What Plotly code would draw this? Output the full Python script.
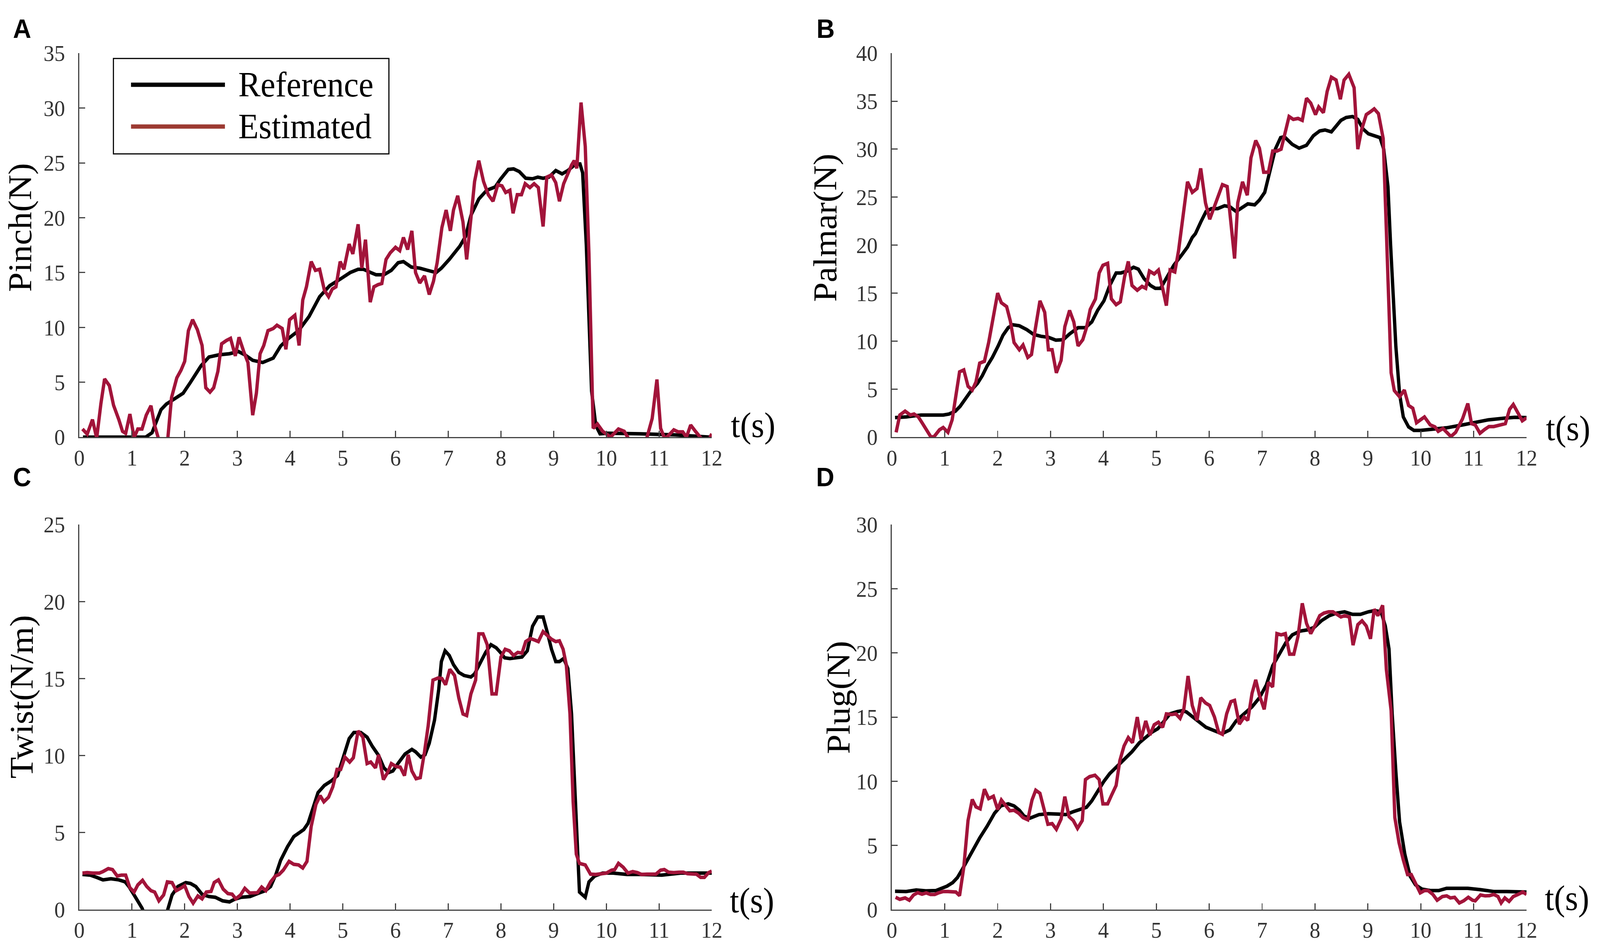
import plotly.graph_objects as go

# (t [s], value) pairs, one list per curve
pinch_ref = [(0.07, 0), (1.26, 0), (1.38, 0.4), (1.48, 1.6), (1.55, 2.5), (1.65, 3.0), (1.82, 3.5), (1.97, 4.0),
             (2.11, 5.0), (2.31, 6.5), (2.46, 7.3), (2.65, 7.5), (2.85, 7.6), (3.02, 7.8), (3.14, 7.5), (3.29, 7.0),
             (3.48, 6.8), (3.68, 7.2), (3.82, 8.3), (3.97, 9.0), (4.16, 9.7), (4.36, 11.0), (4.56, 12.8), (4.75, 13.8),
             (4.95, 14.4), (5.14, 15.0), (5.29, 15.3), (5.39, 15.3), (5.53, 15.0), (5.63, 14.8), (5.78, 14.8),
             (5.92, 15.2), (6.05, 15.9), (6.15, 16.0), (6.3, 15.5), (6.46, 15.4), (6.61, 15.2), (6.77, 15.0),
             (6.87, 15.4), (7.02, 16.2), (7.22, 17.4), (7.33, 18.3), (7.43, 20.2), (7.58, 21.7), (7.73, 22.5),
             (7.89, 22.8), (7.99, 23.5), (8.14, 24.4), (8.24, 24.45), (8.35, 24.2), (8.47, 23.6), (8.6, 23.55),
             (8.7, 23.7), (8.8, 23.6), (8.91, 23.7), (9.04, 24.3), (9.16, 24.0), (9.27, 24.3), (9.42, 24.9),
             (9.5, 24.9), (9.55, 24.1), (9.62, 17.5), (9.72, 4.2), (9.8, 1.06), (9.88, 0.3), (10.03, 0.35),
             (10.64, 0.3), (11.3, 0.2), (11.97, 0.0)]
pinch_est = [(0.06, 0.74), (0.15, 0.27), (0.25, 1.6), (0.33, -0.1), (0.41, 3.05), (0.48, 5.3), (0.57, 4.7),
             (0.65, 2.9), (0.75, 1.6), (0.82, 0.53), (0.88, 0.34), (0.96, 2.1), (1.04, -0.05), (1.11, 0.74),
             (1.19, 0.74), (1.27, 2.0), (1.36, 2.86), (1.43, 1.06), (1.5, -0.1), (1.59, -1.5), (1.68, -0.1),
             (1.75, 3.6), (1.85, 5.4), (1.93, 6.1), (2.0, 6.9), (2.07, 9.7), (2.15, 10.7), (2.24, 9.8), (2.33, 8.35),
             (2.4, 4.5), (2.48, 4.1), (2.55, 4.5), (2.63, 6.0), (2.7, 8.5), (2.79, 8.8), (2.87, 9.0), (2.96, 7.4),
             (3.03, 9.1), (3.12, 7.8), (3.2, 6.8), (3.29, 2.0), (3.36, 4.0), (3.43, 7.6), (3.5, 8.35), (3.58, 9.7),
             (3.68, 9.9), (3.75, 10.2), (3.85, 9.9), (3.92, 8.0), (3.99, 10.7), (4.09, 11.1), (4.17, 8.35),
             (4.24, 12.5), (4.31, 13.7), (4.4, 16.0), (4.48, 15.2), (4.56, 15.3), (4.65, 13.4), (4.73, 12.8),
             (4.8, 13.5), (4.87, 13.7), (4.95, 16.0), (5.02, 15.3), (5.12, 17.6), (5.19, 16.7), (5.29, 19.4),
             (5.36, 15.4), (5.43, 18.0), (5.52, 12.3), (5.59, 13.7), (5.67, 13.9), (5.74, 14.0), (5.82, 16.2),
             (5.9, 16.8), (6.0, 17.3), (6.08, 17.0), (6.15, 18.2), (6.23, 17.1), (6.31, 18.8), (6.38, 15.0),
             (6.46, 14.05), (6.55, 14.7), (6.64, 13.0), (6.72, 14.2), (6.79, 15.9), (6.88, 19.1), (6.96, 20.7),
             (7.04, 18.8), (7.1, 20.7), (7.18, 22.0), (7.28, 19.6), (7.35, 16.2), (7.43, 19.9), (7.5, 23.3),
             (7.58, 25.2), (7.67, 23.3), (7.76, 22.1), (7.85, 21.5), (7.94, 23.0), (8.02, 22.9), (8.09, 22.3),
             (8.17, 22.5), (8.23, 20.4), (8.31, 22.1), (8.39, 22.1), (8.46, 23.1), (8.55, 22.75), (8.63, 23.1),
             (8.71, 22.75), (8.8, 19.2), (8.87, 23.7), (8.96, 23.9), (9.04, 23.2), (9.11, 21.5), (9.19, 23.1),
             (9.27, 24.1), (9.34, 24.8), (9.39, 25.2), (9.44, 24.5), (9.52, 30.5), (9.6, 26.5), (9.67, 16.7),
             (9.75, 0.8), (9.83, 1.2), (9.93, 0.53), (10.08, 0.0), (10.23, 0.74), (10.34, 0.53), (10.41, -0.05),
             (10.5, -1.2), (10.6, -1.5), (10.69, -1.0), (10.77, -0.05), (10.87, 1.7), (10.96, 5.25), (11.03, 0.8),
             (11.1, -0.05), (11.15, 0.0), (11.28, 0.66), (11.36, 0.48), (11.45, 0.48), (11.52, 0.0), (11.6, 1.1),
             (11.69, 0.53), (11.79, -0.05), (11.87, -1.0), (11.96, -0.05), (12.0, 0.3)]

palmar_ref = [(0.06, 2.03), (0.27, 2.1), (0.55, 2.3), (0.73, 2.3), (0.97, 2.3), (1.08, 2.4), (1.2, 2.7),
              (1.29, 3.2), (1.41, 4.2), (1.52, 5.0), (1.62, 5.6), (1.71, 6.4), (1.8, 7.4), (1.9, 8.3), (2.01, 9.5),
              (2.1, 10.6), (2.2, 11.4), (2.29, 11.7), (2.41, 11.6), (2.55, 11.2), (2.68, 10.7), (2.82, 10.5),
              (2.96, 10.4), (3.1, 10.1), (3.24, 10.15), (3.36, 10.75), (3.52, 11.4), (3.66, 11.4), (3.78, 12.0),
              (3.89, 13.2), (4.01, 14.2), (4.12, 15.8), (4.24, 17.1), (4.33, 17.1), (4.45, 17.3), (4.57, 17.7),
              (4.66, 17.5), (4.77, 16.5), (4.89, 15.8), (4.98, 15.5), (5.08, 15.5), (5.19, 16.6), (5.33, 17.9),
              (5.47, 18.9), (5.59, 19.8), (5.68, 20.8), (5.74, 21.2), (5.84, 22.4), (5.94, 23.5), (6.04, 23.8),
              (6.16, 23.8), (6.29, 24.1), (6.39, 24.0), (6.51, 23.5), (6.63, 23.9), (6.73, 24.3), (6.86, 24.2),
              (6.95, 24.7), (7.05, 25.5), (7.15, 27.6), (7.25, 30.0), (7.35, 31.2), (7.42, 31.3), (7.57, 30.5),
              (7.7, 30.1), (7.84, 30.4), (7.97, 31.4), (8.09, 31.9), (8.19, 32.0), (8.31, 31.8), (8.41, 32.4),
              (8.49, 33.0), (8.59, 33.3), (8.71, 33.4), (8.81, 33.1), (8.91, 32.1), (9.01, 31.6), (9.13, 31.4),
              (9.23, 31.2), (9.3, 30.0), (9.38, 26.1), (9.43, 20.0), (9.48, 13.9), (9.53, 9.4), (9.6, 4.5),
              (9.67, 2.1), (9.77, 1.06), (9.87, 0.7), (10.0, 0.7), (10.29, 0.85), (10.49, 0.97), (10.79, 1.27),
              (11.03, 1.5), (11.28, 1.8), (11.58, 1.97), (11.78, 2.06), (12.0, 2.03)]
palmar_est = [(0.08, 0.5), (0.15, 2.3), (0.25, 2.7), (0.35, 2.3), (0.42, 2.4), (0.5, 2.1), (0.57, 1.5),
              (0.65, 0.76), (0.74, 0.0), (0.8, 0.06), (0.9, 0.76), (0.97, 1.0), (1.06, 0.5), (1.14, 1.8), (1.2, 3.9),
              (1.28, 6.8), (1.36, 7.0), (1.44, 5.3), (1.52, 4.9), (1.59, 5.75), (1.66, 7.7), (1.75, 7.9),
              (1.83, 9.85), (1.9, 12.1), (2.0, 15.0), (2.07, 14.0), (2.17, 13.6), (2.24, 12.1), (2.31, 9.85),
              (2.41, 9.1), (2.48, 9.6), (2.57, 8.3), (2.64, 8.6), (2.71, 11.2), (2.8, 14.2), (2.89, 13.0),
              (2.96, 9.1), (3.03, 9.1), (3.11, 6.7), (3.2, 8.0), (3.27, 11.5), (3.36, 13.2), (3.44, 12.0),
              (3.52, 9.5), (3.61, 10.15), (3.68, 11.4), (3.75, 13.3), (3.85, 14.4), (3.92, 17.1), (3.99, 17.9),
              (4.08, 18.1), (4.15, 14.4), (4.24, 13.8), (4.32, 14.1), (4.4, 16.7), (4.47, 18.3), (4.54, 15.8),
              (4.64, 15.3), (4.73, 15.7), (4.8, 15.5), (4.87, 17.3), (4.96, 17.0), (5.04, 17.4), (5.12, 15.5),
              (5.19, 13.7), (5.26, 17.4), (5.35, 17.2), (5.42, 19.4), (5.49, 22.4), (5.59, 26.6), (5.68, 25.5),
              (5.77, 25.9), (5.84, 28.0), (5.93, 24.4), (6.01, 22.7), (6.09, 23.9), (6.18, 25.5), (6.25, 26.3),
              (6.34, 26.1), (6.41, 22.6), (6.48, 18.6), (6.54, 24.4), (6.63, 26.6), (6.72, 25.2), (6.79, 29.1),
              (6.88, 30.9), (6.95, 30.1), (7.03, 27.6), (7.12, 27.6), (7.2, 29.8), (7.28, 29.8), (7.36, 30.0),
              (7.44, 31.8), (7.51, 33.4), (7.59, 33.1), (7.68, 33.2), (7.76, 33.0), (7.84, 35.3), (7.92, 34.8),
              (8.01, 33.6), (8.07, 34.4), (8.16, 33.8), (8.23, 36.0), (8.31, 37.5), (8.4, 37.2), (8.48, 35.2),
              (8.55, 37.2), (8.64, 37.8), (8.74, 36.4), (8.81, 30.0), (8.88, 32.0), (8.97, 33.6), (9.05, 33.9),
              (9.12, 34.2), (9.2, 33.7), (9.29, 31.1), (9.35, 21.5), (9.4, 13.9), (9.44, 6.7), (9.5, 4.85),
              (9.6, 4.2), (9.69, 4.9), (9.77, 3.3), (9.85, 3.0), (9.92, 1.5), (10.07, 2.1), (10.18, 1.27),
              (10.27, 1.06), (10.33, 0.6), (10.42, 0.9), (10.57, 0.06), (10.66, 0.5), (10.79, 1.9), (10.89, 3.5),
              (10.96, 1.4), (11.03, 1.27), (11.12, 0.4), (11.21, 0.8), (11.29, 1.1), (11.38, 1.1), (11.5, 1.27),
              (11.6, 1.4), (11.68, 2.9), (11.75, 3.4), (11.84, 2.5), (11.92, 1.7), (12.0, 2.0)]

twist_ref = [(0.06, 2.28), (0.21, 2.24), (0.33, 2.09), (0.45, 1.93), (0.6, 2.0), (0.75, 1.93), (0.87, 1.8),
             (0.94, 1.5), (1.04, 0.95), (1.11, 0.57), (1.19, 0.1), (1.3, -0.8), (1.45, -1.6), (1.6, -0.9),
             (1.68, 0.0), (1.76, 0.95), (1.87, 1.5), (2.02, 1.75), (2.11, 1.7), (2.21, 1.5), (2.33, 0.99),
             (2.46, 0.85), (2.58, 0.8), (2.72, 0.57), (2.85, 0.5), (2.94, 0.66), (3.07, 0.8), (3.24, 0.85),
             (3.38, 1.04), (3.53, 1.23), (3.63, 1.5), (3.73, 2.28), (3.82, 3.2), (3.95, 4.08), (4.07, 4.74),
             (4.17, 5.0), (4.26, 5.2), (4.34, 5.6), (4.43, 6.6), (4.53, 7.6), (4.65, 8.06), (4.78, 8.35),
             (4.9, 8.7), (5.0, 9.86), (5.12, 11.1), (5.21, 11.5), (5.34, 11.5), (5.46, 11.2), (5.56, 10.6),
             (5.68, 10.0), (5.78, 9.2), (5.87, 8.9), (5.95, 9.0), (6.05, 9.5), (6.18, 10.1), (6.31, 10.4),
             (6.38, 10.25), (6.48, 9.9), (6.56, 10.05), (6.64, 10.8), (6.74, 12.3), (6.82, 14.3), (6.87, 16.1),
             (6.94, 16.8), (7.02, 16.5), (7.1, 15.9), (7.2, 15.4), (7.3, 15.2), (7.43, 15.1), (7.5, 15.3),
             (7.61, 16.0), (7.71, 16.7), (7.81, 17.2), (7.91, 17.0), (7.99, 16.7), (8.07, 16.35), (8.17, 16.3),
             (8.3, 16.35), (8.4, 16.4), (8.5, 16.8), (8.6, 18.4), (8.7, 19.0), (8.8, 19.0), (8.88, 18.0),
             (8.96, 16.9), (9.04, 16.1), (9.11, 16.1), (9.19, 16.3), (9.27, 15.65), (9.34, 12.7), (9.39, 8.9),
             (9.44, 4.2), (9.49, 1.14), (9.6, 0.8), (9.67, 1.8), (9.78, 2.18), (9.93, 2.37), (10.13, 2.37),
             (10.39, 2.28), (10.64, 2.28), (11.05, 2.24), (11.41, 2.37), (11.77, 2.4), (12.0, 2.37)]
twist_est = [(0.06, 2.37), (0.15, 2.4), (0.26, 2.37), (0.38, 2.37), (0.45, 2.47), (0.55, 2.66), (0.63, 2.6),
             (0.72, 2.18), (0.8, 2.24), (0.88, 2.24), (0.96, 1.42), (1.04, 1.14), (1.11, 1.6), (1.2, 1.9),
             (1.28, 1.5), (1.36, 1.23), (1.43, 1.14), (1.51, 0.57), (1.6, 0.95), (1.67, 1.8), (1.76, 1.75),
             (1.84, 1.23), (1.92, 1.38), (2.0, 1.55), (2.08, 0.85), (2.16, 0.42), (2.25, 0.89), (2.33, 0.7),
             (2.41, 1.14), (2.5, 1.18), (2.56, 1.76), (2.64, 1.93), (2.73, 1.33), (2.82, 1.04), (2.9, 1.0),
             (2.97, 0.7), (3.06, 0.95), (3.14, 1.38), (3.23, 1.08), (3.31, 1.1), (3.38, 1.1), (3.46, 1.46),
             (3.54, 1.23), (3.63, 1.8), (3.72, 2.18), (3.79, 2.28), (3.87, 2.56), (3.98, 3.13), (4.07, 2.94),
             (4.16, 2.9), (4.24, 2.7), (4.32, 3.13), (4.4, 5.4), (4.49, 6.83), (4.57, 7.4), (4.64, 7.0),
             (4.73, 7.3), (4.81, 7.97), (4.89, 9.1), (4.96, 9.1), (5.04, 9.9), (5.13, 9.58), (5.2, 9.86),
             (5.29, 11.6), (5.38, 11.2), (5.46, 9.48), (5.53, 9.58), (5.62, 9.2), (5.68, 10.05), (5.77, 8.44),
             (5.85, 8.9), (5.92, 9.48), (6.01, 9.29), (6.09, 9.25), (6.17, 8.7), (6.24, 10.05), (6.31, 9.0),
             (6.39, 8.5), (6.47, 8.57), (6.55, 10.24), (6.62, 11.95), (6.71, 14.9), (6.81, 15.04), (6.88, 15.0),
             (6.95, 14.6), (7.03, 15.6), (7.12, 15.2), (7.2, 13.75), (7.28, 12.7), (7.35, 12.6), (7.43, 14.0),
             (7.52, 14.9), (7.58, 17.9), (7.66, 17.9), (7.74, 17.2), (7.83, 14.0), (7.91, 14.0), (8.0, 16.4),
             (8.08, 16.9), (8.16, 16.8), (8.24, 16.5), (8.32, 16.7), (8.4, 16.65), (8.47, 17.4), (8.56, 17.6),
             (8.64, 17.5), (8.71, 17.4), (8.8, 18.05), (8.88, 17.8), (8.96, 17.55), (9.04, 17.4), (9.11, 17.45),
             (9.18, 16.9), (9.24, 15.9), (9.31, 12.7), (9.37, 7.0), (9.43, 3.6), (9.49, 3.0), (9.6, 2.9),
             (9.7, 2.3), (9.8, 2.28), (9.9, 2.3), (10.0, 2.37), (10.1, 2.56), (10.16, 2.6), (10.23, 3.0),
             (10.32, 2.75), (10.41, 2.37), (10.5, 2.47), (10.59, 2.4), (10.67, 2.28), (10.77, 2.3), (10.85, 2.3),
             (10.94, 2.3), (11.03, 2.56), (11.1, 2.6), (11.18, 2.43), (11.28, 2.4), (11.38, 2.43), (11.46, 2.43),
             (11.54, 2.33), (11.64, 2.28), (11.71, 2.3), (11.79, 2.09), (11.86, 2.09), (11.94, 2.4), (12.0, 2.5)]

plug_ref = [(0.06, 1.43), (0.27, 1.41), (0.46, 1.53), (0.64, 1.46), (0.83, 1.48), (0.92, 1.6), (1.04, 1.82),
            (1.15, 2.1), (1.24, 2.5), (1.34, 3.2), (1.43, 3.87), (1.52, 4.67), (1.66, 5.58), (1.8, 6.49),
            (1.94, 7.5), (2.06, 8.08), (2.2, 8.24), (2.31, 8.08), (2.41, 7.74), (2.5, 7.28), (2.61, 7.12),
            (2.78, 7.4), (2.96, 7.47), (3.15, 7.44), (3.29, 7.4), (3.43, 7.63), (3.57, 7.8), (3.68, 7.97),
            (3.78, 8.47), (3.89, 9.22), (4.01, 10.0), (4.12, 10.6), (4.26, 11.15), (4.4, 11.7), (4.54, 12.3),
            (4.68, 13.0), (4.8, 13.4), (4.91, 13.8), (5.03, 14.1), (5.15, 14.7), (5.26, 15.25), (5.4, 15.43),
            (5.49, 15.5), (5.57, 15.4), (5.69, 15.0), (5.82, 14.6), (5.94, 14.2), (6.09, 13.95), (6.24, 13.7),
            (6.39, 14.0), (6.51, 14.7), (6.66, 15.25), (6.81, 15.8), (6.95, 16.5), (7.08, 17.5), (7.2, 19.0),
            (7.33, 20.0), (7.45, 20.8), (7.57, 21.4), (7.72, 21.7), (7.87, 21.8), (7.99, 22.0), (8.12, 22.5),
            (8.27, 22.9), (8.41, 23.1), (8.56, 23.2), (8.71, 23.0), (8.86, 23.0), (9.01, 23.2), (9.13, 23.3),
            (9.25, 23.2), (9.33, 22.1), (9.4, 20.3), (9.46, 15.25), (9.53, 10.7), (9.6, 6.83), (9.7, 4.3),
            (9.8, 2.6), (9.9, 1.93), (10.02, 1.6), (10.19, 1.48), (10.34, 1.48), (10.49, 1.66), (10.69, 1.68),
            (10.89, 1.66), (11.13, 1.55), (11.38, 1.41), (11.63, 1.41), (11.88, 1.41), (12.0, 1.37)]
plug_est = [(0.07, 0.96), (0.15, 0.8), (0.25, 0.91), (0.33, 0.73), (0.41, 1.14), (0.49, 1.32), (0.57, 1.2),
            (0.65, 1.3), (0.73, 1.18), (0.81, 1.18), (0.88, 1.3), (0.97, 1.41), (1.06, 1.41), (1.13, 1.41),
            (1.21, 1.37), (1.28, 1.09), (1.36, 3.3), (1.44, 6.94), (1.52, 8.58), (1.59, 8.0), (1.67, 7.85),
            (1.75, 9.38), (1.83, 8.65), (1.92, 8.83), (2.0, 7.8), (2.07, 8.54), (2.15, 8.08), (2.23, 7.7),
            (2.31, 7.74), (2.4, 7.5), (2.48, 7.17), (2.57, 7.0), (2.65, 8.54), (2.72, 9.3), (2.8, 9.06),
            (2.88, 7.63), (2.95, 6.65), (3.03, 6.7), (3.11, 6.26), (3.2, 7.06), (3.27, 8.8), (3.35, 7.24),
            (3.43, 6.94), (3.51, 6.33), (3.6, 6.94), (3.66, 10.13), (3.74, 10.36), (3.84, 10.47), (3.92, 10.13),
            (3.99, 8.24), (4.08, 8.24), (4.15, 8.88), (4.24, 9.67), (4.31, 11.6), (4.39, 12.75), (4.47, 13.4),
            (4.55, 13.0), (4.64, 15.0), (4.71, 13.25), (4.8, 14.7), (4.88, 13.6), (4.96, 14.4), (5.04, 14.6),
            (5.12, 14.2), (5.19, 15.25), (5.29, 15.2), (5.37, 15.25), (5.45, 14.9), (5.52, 15.6), (5.6, 18.2),
            (5.68, 15.9), (5.77, 14.75), (5.84, 16.5), (5.93, 16.1), (6.01, 15.9), (6.1, 15.0), (6.18, 13.8),
            (6.25, 13.66), (6.33, 15.25), (6.41, 16.2), (6.48, 16.3), (6.57, 14.45), (6.66, 15.0), (6.73, 14.75),
            (6.81, 16.85), (6.88, 17.9), (6.95, 16.7), (7.04, 15.6), (7.12, 17.7), (7.2, 17.35), (7.28, 21.5),
            (7.36, 21.4), (7.44, 21.5), (7.52, 19.9), (7.6, 19.9), (7.68, 21.3), (7.76, 23.86), (7.84, 22.3),
            (7.92, 21.5), (8.01, 22.2), (8.09, 22.9), (8.17, 23.1), (8.26, 23.2), (8.34, 23.2), (8.41, 23.0),
            (8.49, 22.8), (8.56, 22.9), (8.65, 22.8), (8.72, 20.6), (8.81, 22.2), (8.89, 22.5), (8.97, 22.1),
            (9.05, 21.1), (9.12, 23.4), (9.19, 22.9), (9.28, 23.7), (9.35, 18.7), (9.44, 15.5), (9.51, 7.17),
            (9.59, 5.2), (9.67, 3.87), (9.75, 2.73), (9.82, 2.73), (9.9, 2.05), (9.99, 1.3), (10.07, 1.48),
            (10.14, 1.48), (10.23, 1.18), (10.31, 0.73), (10.41, 1.02), (10.49, 1.07), (10.56, 0.91),
            (10.64, 0.96), (10.73, 0.52), (10.81, 0.68), (10.9, 0.96), (10.98, 0.73), (11.03, 0.68),
            (11.13, 1.14), (11.22, 1.07), (11.3, 1.09), (11.38, 1.18), (11.46, 1.02), (11.52, 0.52),
            (11.59, 0.91), (11.67, 0.64), (11.75, 1.02), (11.84, 1.18), (11.93, 1.37), (12.0, 1.18)]

panel_letters = ["A", "B", "C", "D"]
y_titles = ["Pinch(N)", "Palmar(N)", "Twist(N/m)", "Plug(N)"]
y_max = [35, 40, 25, 30]
x_ticks = list(range(0, 13))
series_names = ["Reference", "Estimated"]

W, H = 4317, 2435
BLACK = "#000000"
RED = "#A2143A"
LEGEND_RED = "#9C3A32"
AXIS_GRAY = "#444444"
SERIF = "Liberation Serif"


def fx(px):
    return px / W


def fy(py):
    return 1 - py / H


# plot boxes in pixels: left, right, top, bottom
boxes = [(201, 1925, 107, 1117), (2416, 4146, 107, 1117),
         (201, 1925, 1347, 2360), (2416, 4146, 1347, 2360)]
letter_pos = [(45, 42), (2235, 42), (45, 1222), (2234, 1222)]
ytitle_pos = [(40, 566), (2234, 566), (44, 1800), (2270, 1802)]
tlabel_pos = [(1975, 1086), (4197, 1094), (1972, 2336), (4194, 2330)]

fig = go.Figure()
annotations = []
shapes = []

for i in range(4):
    ref, est = [pinch_ref, palmar_ref, twist_ref, plug_ref][i], [pinch_est, palmar_est, twist_est, plug_est][i]
    sfx = "" if i == 0 else str(i + 1)
    for pairs, color in ((ref, BLACK), (est, RED)):
        fig.add_trace(go.Scatter(
            x=[p[0] for p in pairs], y=[p[1] for p in pairs],
            mode="lines", line=dict(color=color, width=9),
            xaxis="x" + sfx, yaxis="y" + sfx, showlegend=False, hoverinfo="skip",
        ))

    l, r, t, b = boxes[i]
    common = dict(
        showline=True, linecolor=AXIS_GRAY, linewidth=2.5,
        ticks="inside", ticklen=16, tickwidth=2.5, tickcolor=AXIS_GRAY,
        showgrid=False, zeroline=False,
        tickfont=dict(family=SERIF, size=58, color="#333333"),
    )
    fig.update_layout({
        "xaxis" + sfx: dict(common, domain=[fx(l), fx(r)], range=[0, 12], tickvals=x_ticks,
                            anchor="y" + sfx, ticklabelstandoff=0),
        "yaxis" + sfx: dict(common, domain=[fy(b), fy(t)], range=[0, y_max[i]],
                            tickvals=list(range(0, y_max[i] + 1, 5)),
                            anchor="x" + sfx, ticklabelstandoff=24),
    })

    lx, ly = letter_pos[i]
    annotations.append(dict(text="<b>%s</b>" % panel_letters[i], x=fx(lx), y=fy(ly), xref="paper", yref="paper",
                            showarrow=False, xanchor="center", yanchor="middle",
                            font=dict(family="Liberation Sans", size=68, color="black")))
    tx, ty = ytitle_pos[i]
    annotations.append(dict(text=y_titles[i], x=fx(tx), y=fy(ty), xref="paper", yref="paper", textangle=-90,
                            showarrow=False, xanchor="center", yanchor="middle",
                            font=dict(family=SERIF, size=90, color="black")))
    sx, sy = tlabel_pos[i]
    annotations.append(dict(text="t(s)", x=fx(sx), y=fy(sy), xref="paper", yref="paper",
                            showarrow=False, xanchor="left", yanchor="middle",
                            font=dict(family=SERIF, size=90, color="black")))

# legend box drawn inside panel A
shapes.append(dict(type="rect", xref="paper", yref="paper", x0=fx(294), x1=fx(1045), y0=fy(372), y1=fy(121),
                   line=dict(color="black", width=3), fillcolor="white", layer="above"))
for name, color, ypx in ((series_names[0], BLACK, 190), (series_names[1], LEGEND_RED, 300)):
    shapes.append(dict(type="line", xref="paper", yref="paper", x0=fx(342), x1=fx(598), y0=fy(ypx), y1=fy(ypx),
                       line=dict(color=color, width=11), layer="above"))
    annotations.append(dict(text=name, x=fx(632), y=fy(ypx), xref="paper", yref="paper",
                            showarrow=False, xanchor="left", yanchor="middle",
                            font=dict(family=SERIF, size=90, color="black")))

fig.update_layout(
    width=W, height=H, autosize=False,
    margin=dict(l=0, r=0, t=0, b=0),
    paper_bgcolor="white", plot_bgcolor="white",
    showlegend=False,
    annotations=annotations, shapes=shapes,
)

# the fixed-size figure is stretched to whatever viewport the browser really has
fit_js = """
document.body.style.margin = '0px';
document.body.style.overflow = 'hidden';
var gd = document.getElementById('{plot_id}');
var sx = window.innerWidth / %d, sy = window.innerHeight / %d;
gd.style.transformOrigin = '0 0';
gd.style.transform = 'scale(' + sx + ',' + sy + ')';
""" % (W, H)

fig.write_html("out.html", post_script=fit_js, config={"displayModeBar": False})
